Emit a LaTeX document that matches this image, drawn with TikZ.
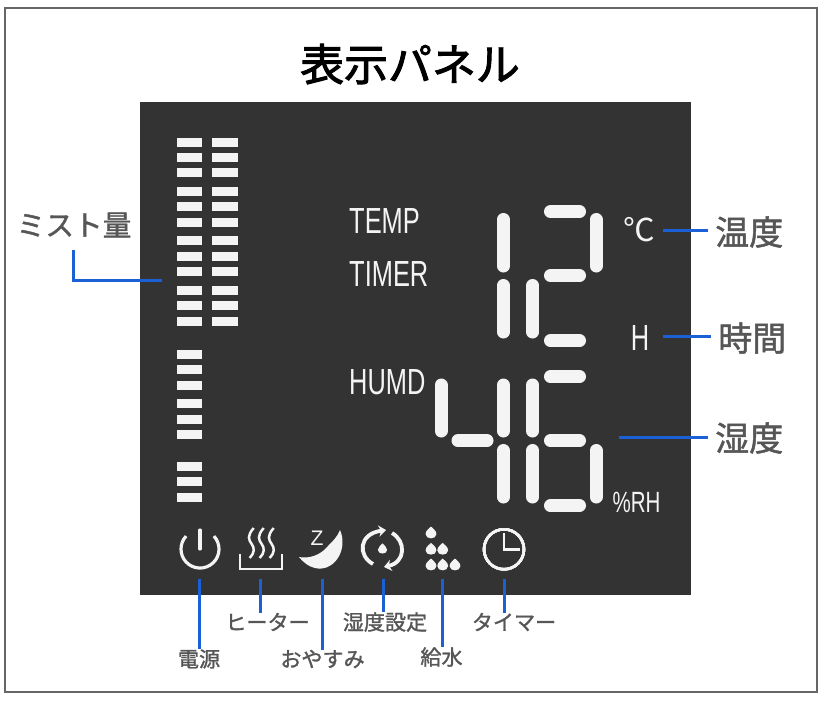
\documentclass[tikz,border=0pt]{standalone}
\usepackage{fontspec}
\usepackage{xcolor}
\usepackage{tikz}
\usetikzlibrary{arrows.meta,positioning}
\setmainfont{Noto Sans CJK JP}
\newfontfamily\titlefont[FakeBold=2.2]{Noto Sans CJK JP}
\newfontfamily\callfont[FakeBold=1.4]{Noto Sans CJK JP}
\newfontfamily\lcdfont[FakeStretch=0.7]{Liberation Sans}
\newfontfamily\iconfont{Liberation Sans}
\definecolor{paneldark}{HTML}{333333}
\definecolor{leaderblue}{HTML}{1C60D8}
\definecolor{callgray}{HTML}{565656}
\definecolor{framegray}{HTML}{666666}
\definecolor{lcdwhite}{HTML}{F4F4F4}
\newcommand{\waterdrop}[3]{% centre x, centre y, radius
  \fill[lcdwhite] (#1,#2-1.2*#3) .. controls (#1+0.3*#3,#2-0.8*#3) and (#1+#3,#2-0.5*#3) .. (#1+#3,#2+0.2*#3)
    .. controls (#1+#3,#2+1.25*#3) and (#1-#3,#2+1.25*#3) .. (#1-#3,#2+0.2*#3)
    .. controls (#1-#3,#2-0.5*#3) and (#1-0.3*#3,#2-0.8*#3) .. cycle;}
\tikzset{
  segline/.style={draw=lcdwhite,line width=3.9mm,line cap=round},
  leaderline/.style={draw=leaderblue,line width=0.9mm},
  iconline/.style={draw=lcdwhite,line width=0.95mm},
  iconthin/.style={draw=lcdwhite,line width=0.75mm},
  paneltext/.style={text=lcdwhite,inner sep=0pt,font=\lcdfont\fontsize{31}{33}\selectfont},
  calllabel/.style={text=callgray,inner xsep=6pt,inner ysep=0pt,font=\callfont\fontsize{29}{31}\selectfont},
  iconlabel/.style={text=callgray,inner sep=0pt,font=\callfont\fontsize{18}{20}\selectfont}
}
\begin{document}
\begin{tikzpicture}[x=0.03cm,y=-0.03cm]
\useasboundingbox (0,0) rectangle (830,701);
% ---- frame, title and the dark panel -----------------------------------
\draw[framegray,line width=0.35mm] (5,8) rectangle (817,692);
\node[inner sep=0pt,font=\titlefont\fontsize{37.5}{40}\selectfont] (paneltitle) at (410,64) {表示パネル};
\fill[paneldark] (140,102) rectangle (691,595);
% ---- mist level bars ----------------------------------------------------
\foreach \y in {142,157.3,172.7,191.3,206.7,222,240.7,256,271.3,290,305.3,321} {
  \fill[lcdwhite] (177,\y-4.5) rectangle (202,\y+4.5);
  \fill[lcdwhite] (212,\y-4.5) rectangle (238,\y+4.5);
}
\foreach \y in {354,369.3,385,403.3,419,434.3,466.7,481.7,497.3}
  \fill[lcdwhite] (177,\y-4.5) rectangle (202,\y+4.5);
% ---- seven segment digits: 12 and 46 ------------------------------------
\foreach \x/\ya/\yb in {503.3/219.5/266,503.3/285.5/332,532.7/285.5/332,596/219.5/266,
    441/385/431,503.3/385/431,532.7/385/431,503.3/450.5/497,532.7/450.5/497,596/450.5/497}
  \draw[segline] (\x,\ya) -- (\x,\yb);
\foreach \y in {211.7,275.7,340.7,376.7,440.7,505.7}
  \draw[segline] (550.5,\y) -- (579.5,\y);
\draw[segline] (458,440.7) -- (487,440.7);
% ---- panel texts ---------------------------------------------------------
\node[paneltext,anchor=west] (tempmark) at (349,221) {TEMP};
\node[paneltext,anchor=west] (timermark) at (349,274) {TIMER};
\node[paneltext,anchor=west] (humdmark) at (349,382) {HUMD};
\node[paneltext,font=\fontsize{27}{29}\selectfont] (celsiusmark) at (639,230) {℃};
\node[paneltext] (hourmark) at (640,338) {H};
\node[paneltext,font=\lcdfont\fontsize{25}{27}\selectfont] (rhmark) at (636.5,502) {\%RH};
% ---- icon row ------------------------------------------------------------
% power
\draw[iconline] (213.9,536.1) arc[start angle=-43,end angle=223,radius=19];
\draw[iconline,line cap=round] (200,530) -- (200,549);
% heater
\foreach \x in {251.7,261.7,271.7}
  \draw[iconthin] (\x+2,528) .. controls (\x-5,536) and (\x-3,540) .. (\x,544)
    .. controls (\x+3,548) and (\x+3,553) .. (\x-2,558);
\draw[iconthin,line width=0.45mm] (240,554) -- (240,569) -- (282,569) -- (282,554);
% sleep
\fill[lcdwhite] (340,530) .. controls (348,548) and (336,570) .. (318,568.5)
  .. controls (309,567.5) and (303,562) .. (299,557)
  .. controls (309,559) and (320,555) .. (326,548)
  .. controls (333,541) and (338,536) .. cycle;
\node[text=lcdwhite,inner sep=0pt,font=\iconfont\fontsize{18}{20}\selectfont] (sleepmark) at (317,538) {Z};
% humidity setting
\draw[iconline,line width=1.15mm,-{Stealth[length=2.2mm,width=3.4mm]}] (373,564) .. controls (358,556) and (358,534) .. (386,530);
\draw[iconline,line width=1.15mm,-{Stealth[length=2.2mm,width=3.4mm]}] (392,533) .. controls (406,541) and (406,562) .. (384,567);
\waterdrop{382.5}{549}{4.6}
% water drops
\foreach \x/\y in {431/533,431/549.3,442.7/549.3,431/565,442.7/565,455/565}
  \waterdrop{\x}{\y}{5.4}
% timer
\draw[iconline,line width=0.75mm] (504,549.3) circle[radius=20];
\draw[iconline,line width=0.75mm] (504,533) -- (504,549.5) -- (520,549.5);
% ---- callouts on the right -------------------------------------------------
\node[calllabel,anchor=west] (templabel) at (708,232) {温度};
\node[calllabel,anchor=west] (hourlabel) at (711,338) {時間};
\node[calllabel,anchor=west] (humlabel) at (708,438) {湿度};
\coordinate (tempfree) at (663,230);
\coordinate (hourfree) at (663,336);
\coordinate (humfree) at (619,437);
\draw[leaderline] (tempfree) -- (tempfree -| templabel.west);
\draw[leaderline] (hourfree) -- (hourfree -| hourlabel.west);
\draw[leaderline] (humfree) -- (humfree -| humlabel.west);
% ---- callout on the left ---------------------------------------------------
\node[calllabel,inner xsep=0pt,font=\callfont\fontsize{24.5}{27}\selectfont] (mistlabel) at (74,225) {ミスト量};
\coordinate (mistfree) at (162,280);
\coordinate (mistknee) at (73,280);
\coordinate (misttop) at (73,250);
\draw[leaderline] (misttop) -- (mistknee) -- (mistfree);
% ---- callouts below the panel ----------------------------------------------
\node[iconlabel] (powerlabel) at (199,659) {電源};
\node[iconlabel] (heaterlabel) at (267.5,622) {ヒーター};
\node[iconlabel] (sleeplabel) at (322.5,659) {おやすみ};
\node[iconlabel] (setlabel) at (385,622) {湿度設定};
\node[iconlabel] (waterlabel) at (441.5,657) {給水};
\node[iconlabel] (timerlabel) at (514,622) {タイマー};
\coordinate (powerfree) at (199.7,579);
\coordinate (heaterfree) at (260,579);
\coordinate (sleepfree) at (322.3,579);
\coordinate (setfree) at (383,579);
\coordinate (waterfree) at (442,579);
\coordinate (timerfree) at (504.7,579);
\draw[leaderline] (powerfree) -- (powerfree |- powerlabel.north);
\draw[leaderline] (heaterfree) -- (heaterfree |- heaterlabel.north);
\draw[leaderline] (sleepfree) -- (sleepfree |- sleeplabel.north);
\draw[leaderline] (setfree) -- (setfree |- setlabel.north);
\draw[leaderline] (waterfree) -- (waterfree |- waterlabel.north);
\draw[leaderline] (timerfree) -- (timerfree |- timerlabel.north);
\end{tikzpicture}
\end{document}
